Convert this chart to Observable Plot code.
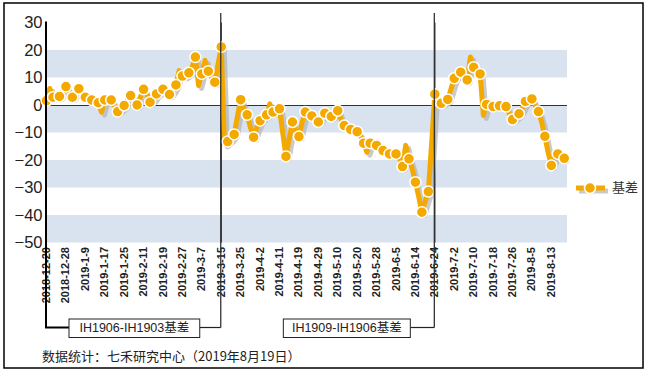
<!DOCTYPE html>
<html><head><meta charset="utf-8">
<script src="https://cdn.jsdelivr.net/npm/d3@7"></script>
<script src="https://cdn.jsdelivr.net/npm/@observablehq/plot@0.6"></script>
<style>
body{margin:0;background:#fff;}
#chart{position:relative;width:652px;height:374px;}
svg{display:block;}
</style></head><body><div id="chart"></div>
<script>
// Tick labels (every 6th trading day, starting at index 0)
const tickLabels = ["2018-12-20","2018-12-28","2019-1-9","2019-1-17","2019-1-25","2019-2-11","2019-2-19","2019-2-27","2019-3-7","2019-3-15","2019-3-25","2019-4-2","2019-4-11","2019-4-19","2019-4-29","2019-5-10","2019-5-20","2019-5-28","2019-6-5","2019-6-14","2019-6-24","2019-7-2","2019-7-10","2019-7-18","2019-7-26","2019-8-5","2019-8-13"];
// Daily basis values (trading-day index 0..160)
const values = [
 1.8, 6.2, 3, 4, 3.3, 5, 6.9, 5, 3, 4.5,
 6.1, 4.5, 3, 2.5, 2, 1.5, 1, -2.4, 2, 1.5,
 2, 0, -2.2, -1, 0, 2, 3.6, 2, 0.2, 3,
 5.9, 4, 1.2, 2.5, 4.2, 5, 5.9, 5, 4, 5.5,
 7.5, 12.7, 10.7, 11, 11.9, 14, 17.6, 7.3, 11.5, 16.4,
 12.5, 10, 8.5, 15, 21.3, -14, -13.1, -12, -10.5, -4,
 2.1, -1, -3.4, -8, -11.5, -8, -5.5, -4, -3.4, 0.6,
 -2.4, -2, -1.2, -10, -18.5, -12, -6, -9, -11.3, -6,
 -2.4, -3, -3.8, -5, -6, -4, -2.8, -3.5, -4, -3,
 -1.9, -5, -7.3, -8, -8.7, -9, -9.5, -11, -13.7, -17,
 -13.7, -14, -14.5, -15.5, -16.4, -17, -17.6, -17.6, -17.6, -19,
 -22.2, -14.5, -19.4, -23, -27.9, -33, -38.8, -35, -31.3, -14,
 4.1, 2, 0.8, 1.5, 2.2, 6, 9.9, 11, 12.1, 11,
 9.3, 17.6, 13.9, 12.5, 11.5, -3.6, 0.4, 0, -0.4, -0.2,
 -0.1, -0.3, -0.4, -3, -5.1, -4, -3, -1, 1.5, 2,
 2.4, 0, -2.2, -6, -11.2, -17, -21.8, -19, -17.6, -18,
 -19.2
];
const seriesName = "基差";
const yTicks = [-50, -40, -30, -20, -10, 0, 10, 20, 30];
const bandLows = [10, -10, -30, -50];
const splitIndex = [54, 120];
const contractLabels = ["IH1906-IH1903基差", "IH1909-IH1906基差"];
const sourceText = "数据统计：七禾研究中心（2019年8月19日）";

const ORANGE = "#F4A900";
const data = values.map((v, i) => ({i, v}));
const dotData = data.filter(d => d.i % 2 === 0);
const bands = bandLows.map(lo => ({lo, hi: lo + 10}));
const FONT = "'Liberation Sans', Arial, 'Noto Sans CJK SC', sans-serif";

const plot = Plot.plot({
  width: 652, height: 374,
  marginLeft: 46, marginRight: 85, marginTop: 22.5, marginBottom: 131.5,
  style: {fontFamily: FONT, background: "transparent", overflow: "visible"},
  x: {domain: [0, 161], label: null},
  y: {domain: [-50, 30], label: null},
  marks: [
    Plot.rectY(bands, {y1: "lo", y2: "hi", fill: "#D9E3EF"}),
    Plot.ruleY([0], {stroke: "#333", strokeWidth: 1.2}),
    Plot.ruleX(splitIndex, {stroke: "#333", strokeWidth: 1.3}),
    Plot.axisY({ticks: yTicks, tickSize: 0, tickPadding: 4, fontSize: 16.5, fill: "#222", label: null}),
    Plot.axisX({ticks: d3.range(0, 157, 6), tickFormat: i => tickLabels[i / 6], tickRotate: -90,
      tickSize: 0, tickPadding: 4, fontSize: 11, fontWeight: "bold", fill: "#222", label: null}),
    Plot.line(data, {x: "i", y: "v", stroke: "#b4b4b4", strokeOpacity: 0.7, strokeWidth: 5, dx: 3, dy: 3}),
    Plot.line(data, {x: "i", y: "v", stroke: ORANGE, strokeWidth: 5, strokeLinejoin: "round"}),
    Plot.dot(dotData, {x: "i", y: "v", r: 5.5, fill: ORANGE, stroke: "#fff", strokeWidth: 1.5})
  ]
});
document.getElementById("chart").appendChild(plot);

// Overlay: annotation brackets, legend, frame and source
const xs = plot.scale("x"), ys = plot.scale("y");
const px = v => xs.apply(v), py = v => ys.apply(v);
const svg = d3.select(plot);
const g = svg.append("g").attr("text-anchor", "start");
const yTop = 13, yBr = 327.5;
const x0 = px(0), xa = px(splitIndex[0]), xb = px(splitIndex[1]);

// left axis line with bracket extension
g.append("path").attr("d", `M${x0},${py(30) - 1}V${yBr}H${x0 + 23}`).attr("fill", "none").attr("stroke", "#000").attr("stroke-width", 2);
// split lines extensions
[xa, xb].forEach(x => {
  g.append("line").attr("x1", x).attr("x2", x).attr("y1", yTop).attr("y2", yBr).attr("stroke", "#333").attr("stroke-width", 1.3);
});
const boxes = [
  {l: x0 + 23, r: xa - 21, join: [xa - 21, xa], text: contractLabels[0]},
  {l: xb - 151, r: xb - 24, join: [xb - 24, xb], text: contractLabels[1]}
];
boxes.forEach(b => {
  g.append("line").attr("x1", b.join[0]).attr("x2", b.join[1]).attr("y1", yBr).attr("y2", yBr).attr("stroke", "#222").attr("stroke-width", 1.2);
  g.append("rect").attr("x", b.l).attr("y", 319).attr("width", b.r - b.l).attr("height", 18.5)
    .attr("fill", "#fff").attr("stroke", "#222").attr("stroke-width", 1);
  g.append("text").attr("x", (b.l + b.r) / 2).attr("y", 328.5).attr("text-anchor", "middle").attr("dominant-baseline", "middle")
    .attr("font-size", 12.5).attr("fill", "#222").attr("font-family", FONT).text(b.text);
});

// legend
const lg = g.append("g");
lg.append("line").attr("x1", 579).attr("x2", 608).attr("y1", 191).attr("y2", 191).attr("stroke", "#b4b4b4").attr("stroke-opacity", 0.7).attr("stroke-width", 5);
lg.append("line").attr("x1", 576).attr("x2", 605).attr("y1", 188).attr("y2", 188).attr("stroke", ORANGE).attr("stroke-width", 5);
lg.append("circle").attr("cx", 590).attr("cy", 188).attr("r", 5.5).attr("fill", ORANGE).attr("stroke", "#fff").attr("stroke-width", 1.5);
lg.append("text").attr("x", 612).attr("y", 188).attr("text-anchor", "start").attr("dominant-baseline", "middle").attr("font-size", 13).attr("fill", "#333")
  .attr("font-family", "'Noto Sans CJK SC', sans-serif").text(seriesName);

// source
g.append("text").attr("x", 42).attr("y", 357).attr("text-anchor", "start").attr("dominant-baseline", "middle").attr("font-size", 13).attr("fill", "#222")
  .attr("font-family", "'Noto Sans CJK SC', sans-serif").text(sourceText);

// outer frame
g.append("rect").attr("x", 4).attr("y", 3).attr("width", 639).attr("height", 365).attr("fill", "none").attr("stroke", "#000").attr("stroke-width", 1.5);
</script></body></html>
